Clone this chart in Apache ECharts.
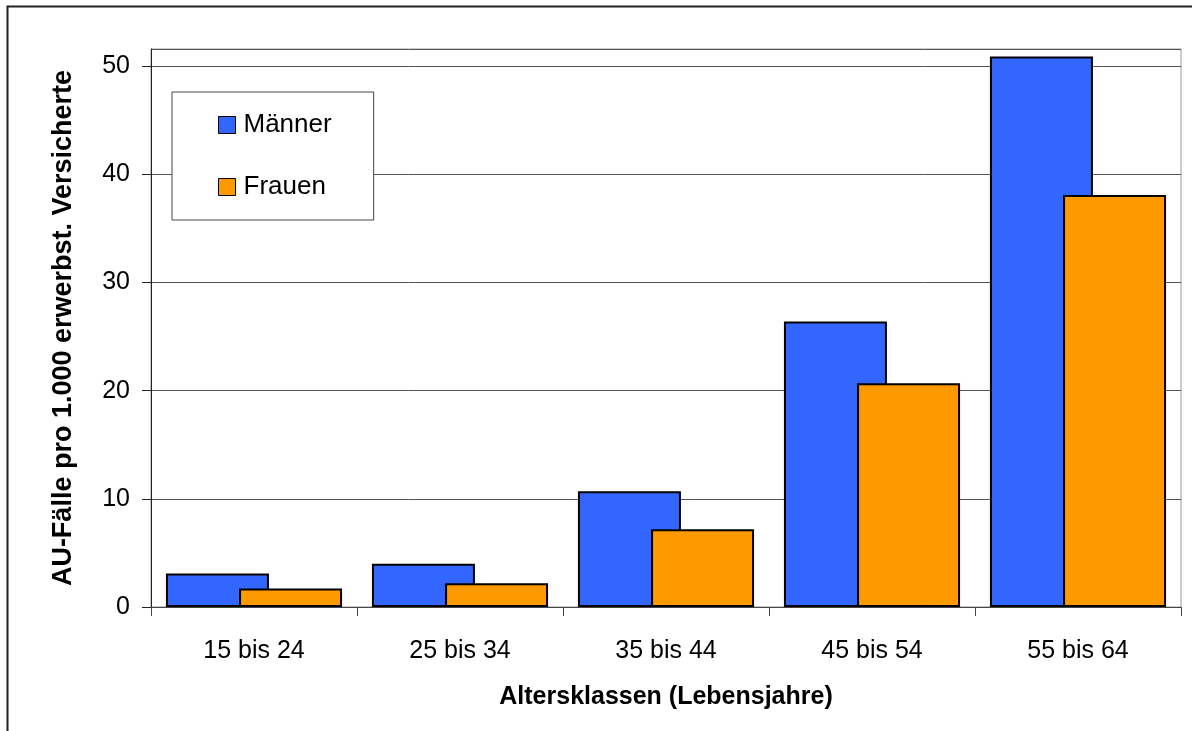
<!DOCTYPE html>
<html>
<head>
<meta charset="utf-8">
<script src="https://cdn.jsdelivr.net/npm/echarts@6/dist/echarts.min.js"></script>
<style>
  html, body { margin: 0; padding: 0; background: #fff; }
  #container { width: 1192px; height: 731px; }
</style>
</head>
<body>
<div id="container"></div>
<script>
// Altersklassen und AU-Fälle je 1.000 erwerbstätige Versicherte
const categories = ['15 bis 24', '25 bis 34', '35 bis 44', '45 bis 54', '55 bis 64'];
const maenner = [3.1, 4.0, 10.7, 26.4, 50.9];
const frauen = [1.7, 2.2, 7.2, 20.7, 38.1];
const seriesNames = ['Männer', 'Frauen'];
const yTicks = [0, 10, 20, 30, 40, 50];

const font = '"Liberation Sans", Arial, sans-serif';

const chart = echarts.init(document.getElementById('container'), null, { renderer: 'canvas' });

const barStyle = color => ({
    color: color,
    borderColor: '#000',
    borderWidth: 2
});

const option = {
    animation: false,
    backgroundColor: '#fff',
    textStyle: { fontFamily: font, color: '#000' },
    graphic: [
        {
            type: 'rect',
            shape: { x: 7.5, y: 6.5, width: 1300, height: 800 },
            style: { fill: 'none', stroke: '#222', lineWidth: 2 },
            silent: true
        }
    ],
    grid: {
        left: 151,
        right: 11,
        top: 49,
        bottom: 124,
        show: true,
        borderColor: '#999',
        borderWidth: 1
    },
    legend: {
        data: seriesNames,
        orient: 'vertical',
        left: 172,
        top: 92,
        padding: [20, 42, 20, 46],
        itemGap: 36,
        itemWidth: 17,
        itemHeight: 17,
        icon: 'rect',
        backgroundColor: '#fff',
        borderColor: '#444',
        borderWidth: 1,
        textStyle: { fontSize: 26, fontFamily: font, color: '#000', padding: [0, 0, 0, 3] },
        itemStyle: { borderColor: '#000', borderWidth: 1 }
    },
    xAxis: {
        type: 'category',
        data: categories,
        name: 'Altersklassen (Lebensjahre)',
        nameLocation: 'middle',
        nameGap: 78,
        nameTextStyle: { fontSize: 25, fontWeight: 'bold', fontFamily: font, color: '#000' },
        axisLine: { lineStyle: { color: '#444', width: 1 } },
        axisTick: { show: true, length: 9, lineStyle: { color: '#444' } },
        axisLabel: { fontSize: 25, margin: 32, color: '#000', fontFamily: font }
    },
    yAxis: {
        type: 'value',
        min: 0,
        max: 51.6,
        interval: 10,
        name: 'AU-Fälle pro 1.000 erwerbst. Versicherte',
        nameLocation: 'middle',
        nameGap: 74,
        nameTextStyle: { fontSize: 27, fontWeight: 'bold', fontFamily: font, color: '#000' },
        axisLine: { show: true, lineStyle: { color: '#222', width: 1 } },
        axisTick: { show: true, length: 9, lineStyle: { color: '#222' } },
        axisLabel: {
            fontSize: 25,
            margin: 21,
            color: '#000',
            fontFamily: font,
            showMaxLabel: false,
            formatter: v => (yTicks.indexOf(v) >= 0 ? String(v) : '')
        },
        splitLine: { show: true, lineStyle: { color: '#555', width: 1 } }
    },
    series: [
        {
            name: seriesNames[0],
            type: 'bar',
            data: maenner,
            barWidth: '50%',
            barGap: '-29%',
            itemStyle: barStyle('#3366FF')
        },
        {
            name: seriesNames[1],
            type: 'bar',
            data: frauen,
            barWidth: '50%',
            barGap: '-29%',
            itemStyle: barStyle('#FF9900')
        }
    ]
};

chart.setOption(option);
window.addEventListener('resize', () => chart.resize());
</script>
</body>
</html>
